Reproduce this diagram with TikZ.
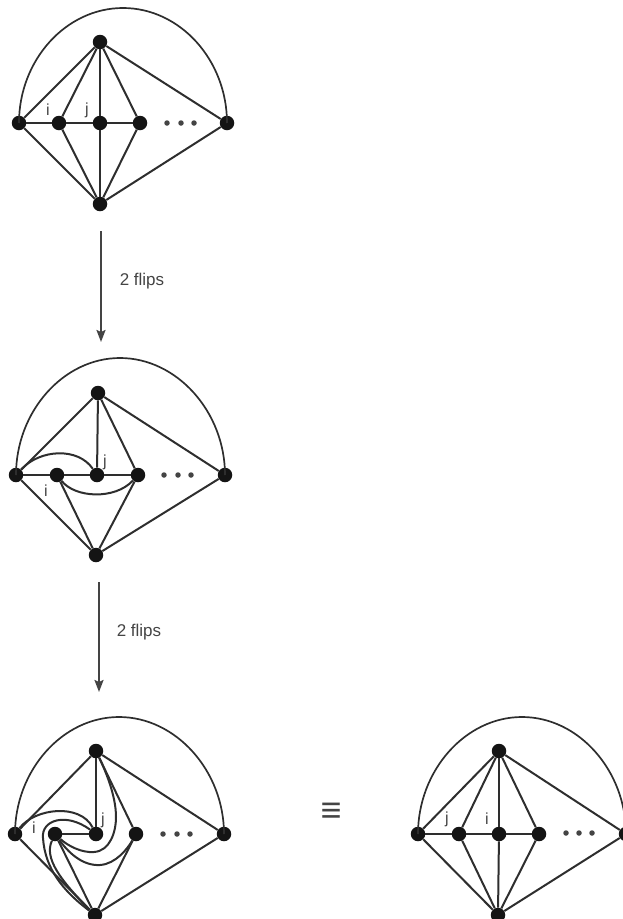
\documentclass[tikz,border=0pt]{standalone}
\usepackage{fontspec}
\setmainfont{Liberation Sans}
\usetikzlibrary{arrows.meta}
\definecolor{ink}{HTML}{2E2E2E}
\definecolor{soft}{HTML}{444444}
\tikzset{
  vtx/.style={circle,fill=black!92,draw=none,inner sep=0pt,minimum size=14.5pt},
  dotv/.style={circle,fill=soft,draw=none,inner sep=0pt,minimum size=5.5pt},
  edge/.style={draw=ink,line width=2pt},
  thin edge/.style={draw=ink,line width=1.7pt},
  flow/.style={draw=soft,line width=2pt,-{Stealth[length=12pt,width=9pt,inset=2pt]}},
  lab/.style={text=soft,font=\fontsize{16}{16}\selectfont,inner sep=0pt},
  fliplab/.style={text=soft,font=\fontsize{17}{17}\selectfont,inner sep=0pt},
}
% #1 prefix; #2..#5 x of the row; #6 right x; #7 row y; #8 top x; #9 top y
\newcommand{\rownodes}[9]{%
  \node[vtx] (#1l) at (#2,#7) {};
  \node[vtx] (#1a) at (#3,#7) {};
  \node[vtx] (#1b) at (#4,#7) {};
  \node[vtx] (#1c) at (#5,#7) {};
  \node[vtx] (#1r) at (#6,#7) {};
  \node[vtx] (#1t) at (#8,#9) {};
}
\begin{document}
\begin{tikzpicture}[x=1pt,y=-1pt]
\useasboundingbox (0,0) rectangle (623,919);

% ---------- diagram 1
\rownodes{p}{19}{59}{100}{140}{227}{123}{100}{42}
\node[vtx] (pB) at (100,204) {};
\foreach \n/\x in {1/167,2/181,3/194} \node[dotv] (pd\n) at (\x,123) {};
\draw[thin edge] (pl.center) .. controls (19,60) and (66,8) .. (123,8) .. controls (180,8) and (227,60) .. (pr.center);
\draw[edge] (pl)--(pa)--(pb)--(pc);
\foreach \v in {l,a,b,c,r} {\draw[edge] (pt)--(p\v); \draw[edge] (pB)--(p\v);}
\node[lab] (pi) at (48,110) {i};
\node[lab] (pj) at (87,110) {j};

% ---------- arrow 1
\coordinate (s1) at (101,231);
\coordinate (e1) at (101,342);
\draw[flow] (s1)--(e1);
\node[fliplab] (f1) at (142,281) {2 flips};

% ---------- diagram 2
\rownodes{q}{16}{57}{97}{138}{225}{475}{98}{393}
\node[vtx] (qB) at (96,555) {};
\foreach \n/\x in {1/164,2/178,3/191} \node[dotv] (qd\n) at (\x,475) {};
\draw[thin edge] (ql.center) .. controls (16,412) and (63,358) .. (120,358) .. controls (177,358) and (225,412) .. (qr.center);
\draw[edge] (ql)--(qa)--(qb)--(qc);
\foreach \v in {l,b,c,r} \draw[edge] (qt)--(q\v);
\foreach \v in {l,a,c,r} \draw[edge] (qB)--(q\v);
\draw[edge] (ql) .. controls (40,449) and (78,447) .. (qb);
\draw[edge] (qa) .. controls (75,498) and (115,500) .. (qc);
\node[lab] (qi) at (46,491) {i};
\node[lab] (qj) at (105,462) {j};

% ---------- arrow 2
\coordinate (s2) at (99,582);
\coordinate (e2) at (99,692);
\draw[flow] (s2)--(e2);
\node[fliplab] (f2) at (139,632) {2 flips};

% ---------- diagram 3
\rownodes{u}{15}{55}{96}{136}{224}{834}{96}{751}
\node[vtx] (uB) at (95,915) {};
\foreach \n/\x in {1/163,2/177,3/190} \node[dotv] (ud\n) at (\x,834) {};
\draw[thin edge] (ul.center) .. controls (15,771) and (62,717) .. (119,717) .. controls (176,717) and (224,771) .. (ur.center);
\draw[edge] (ua)--(ub);
\draw[edge] (ut)--(ub);
\foreach \v in {l,c,r} \draw[edge] (ut)--(u\v);
\foreach \v in {l,a,c,r} \draw[edge] (uB)--(u\v);
% left node over to j
\draw[edge] (ul) .. controls (35,808) and (80,803) .. (ub);
% bottom, round i, to j
\draw[edge] (uB) .. controls (62,890) and (45,868) .. (43,838)
   .. controls (41,820) and (66,812) .. (ub);
% i to bottom, inner curve
\draw[edge] (ua) .. controls (44,858) and (60,880) .. (uB);
% i, round j, to top
\draw[edge] (ua) .. controls (68,846) and (82,853) .. (94,852)
   .. controls (110,851) and (116,832) .. (116,817)
   .. controls (116,795) and (105,770) .. (ut);
% i to right neighbour
\draw[edge] (ua) .. controls (68,852) and (82,866) .. (100,865)
   .. controls (116,864) and (128,848) .. (uc);
\node[lab] (ui) at (34,828) {i};
\node[lab] (uj) at (103,820) {j};

% ---------- equivalence
\node[text=soft,inner sep=0pt] (eq) at (331,813) {\fontsize{36}{36}\selectfont ≡};

% ---------- diagram 4
\rownodes{v}{418}{459}{499}{539}{626}{834}{499}{751}
\node[vtx] (vB) at (498,915) {};
\foreach \n/\x in {1/566,2/579,3/592} \node[dotv] (vd\n) at (\x,833) {};
\draw[thin edge] (vl.center) .. controls (418,771) and (465,717) .. (522,717) .. controls (579,717) and (626,771) .. (vr.center);
\draw[edge] (vl)--(va)--(vb)--(vc);
\foreach \v in {l,a,b,c,r} {\draw[edge] (vt)--(v\v); \draw[edge] (vB)--(v\v);}
\node[lab] (vj) at (447,819) {j};
\node[lab] (vi) at (487,819) {i};
\end{tikzpicture}
\end{document}
